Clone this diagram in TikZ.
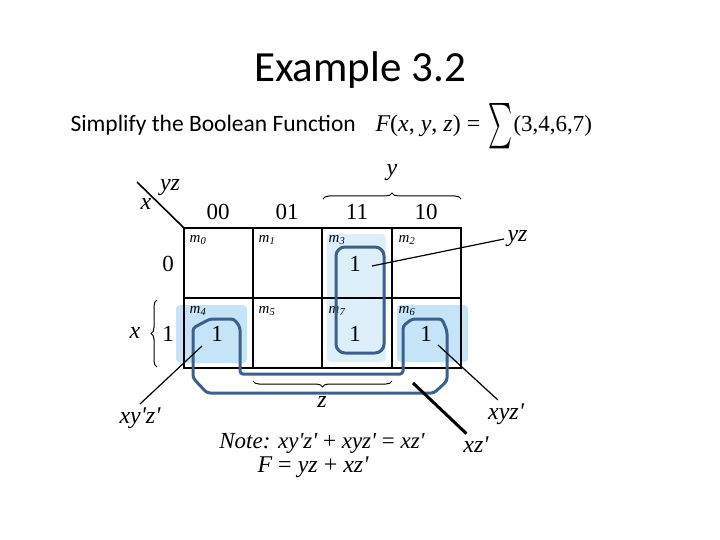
\documentclass[tikz,border=0pt]{standalone}
\usepackage{fontspec}
\setmainfont{Carlito}
\newfontfamily\tms{Liberation Serif}
\usetikzlibrary{decorations.pathreplacing}

\definecolor{loopblue}{HTML}{3D5F8A}
\definecolor{colshade}{HTML}{DDEFFB}
\definecolor{rowshade}{HTML}{C5E4F7}

\tikzset{
  kfont/.style={font=\tms\fontsize{23}{25}\selectfont},
  labfont/.style={font=\tms\itshape\fontsize{24}{26}\selectfont},
  mfont/.style={font=\tms\fontsize{15}{16}\selectfont},
  grouploop/.style={draw=loopblue, line width=3pt, rounded corners=3pt},
  leader/.style={line width=1.2pt},
  kbrace/.style={decorate, decoration={brace, amplitude=6pt}, line width=1pt},
}

\begin{document}
\begin{tikzpicture}[x=1pt, y=-1pt]
  \useasboundingbox (0,0) rectangle (720,540);

  % Title and task
  \node[font=\fontsize{43}{48}\selectfont, anchor=base] (title) at (360,82) {Example 3.2};
  \node[font=\fontsize{23.5}{26}\selectfont, anchor=base west] (task) at (67,132) {Simplify the Boolean Function};
  \node[font=\tms\fontsize{24}{26}\selectfont, anchor=base west] (fxyz) at (372,132) {\itshape F\upshape(\itshape x\upshape, \itshape y\upshape, \itshape z\upshape) =};
  \node[inner sep=0pt] (sigma) at (500,126) {\resizebox{24pt}{34pt}{$\sum$}};
  \node[font=\tms\fontsize{23}{25}\selectfont, anchor=base west] (terms) at (510,132) {(3,4,6,7)};

  % Shading of the groups
  \fill[colshade, rounded corners=4pt] (327,234) rectangle (386,362);
  \fill[rowshade, rounded corners=4pt] (176,305) rectangle (247,363);
  \fill[rowshade, rounded corners=4pt] (397,305) rectangle (468,362);

  % Map grid
  \draw[line width=1.3pt] (253,228) -- (253,368);
  \draw[line width=1.3pt] (392,228) -- (392,368);
  \draw[line width=2.2pt] (322,228) -- (322,368);
  \draw[line width=2.2pt] (184,298) -- (461,298);
  \draw[line width=2.6pt] (184,228) rectangle (461,368);
  \draw[line width=1.6pt] (137,182) -- (184,228);

  % Variables and headings
  \node[labfont] (cvar) at (170,188) {yz};
  \node[labfont] (rvar) at (146,204) {x};
  \node[kfont] (h00) at (218,212) {00};
  \node[kfont] (h01) at (287,212) {01};
  \node[kfont] (h11) at (357,212) {11};
  \node[kfont] (h10) at (426,212) {10};
  \node[kfont] (r0) at (168,264) {0};
  \node[kfont] (r1) at (168,334) {1};

  % Braces
  \draw[kbrace] (323,199) -- (461,199);
  \node[labfont] (ylab) at (392,173) {y};
  \draw[kbrace] (157,367) -- (157,300);
  \node[labfont] (xlab) at (135,333) {x};
  \draw[kbrace] (392,381) -- (253,381);
  \node[labfont] (zlab) at (322,402) {z};

  % Minterms
  \node[mfont] (m0) at (198,240) {\itshape m\textsubscript{0}};
  \node[mfont] (m1) at (267,240) {\itshape m\textsubscript{1}};
  \node[mfont] (m3) at (337,240) {\itshape m\textsubscript{3}};
  \node[mfont] (m2) at (407,240) {\itshape m\textsubscript{2}};
  \node[mfont] (m4) at (198,311) {\itshape m\textsubscript{4}};
  \node[mfont] (m5) at (267,311) {\itshape m\textsubscript{5}};
  \node[mfont] (m7) at (337,311) {\itshape m\textsubscript{7}};
  \node[mfont] (m6) at (407,311) {\itshape m\textsubscript{6}};

  % Ones
  \node[kfont] (one3) at (355,264) {1};
  \node[kfont] (one7) at (355,334) {1};
  \node[kfont] (one4) at (217,334) {1};
  \node[kfont] (one6) at (426,334) {1};

  % Groups
  \draw[grouploop, rounded corners=9pt] (336,247) rectangle (384,353);
  \draw[grouploop] (240,327) -- (240,374) -- (403,374) -- (403,326) -- (412,319)
    -- (442,319) -- (447,331) -- (447,381) -- (434,393) -- (207,393) -- (193,378)
    -- (193,328) -- (210,319) -- (234,319) -- cycle;

  % Leaders
  \coordinate (yzfoot) at (372,266);
  \node[labfont, anchor=west] (yzlab) at (504,239) {yz};
  \draw[leader] (yzfoot) -- (yzlab.west);
  \coordinate (xnfoot) at (202,346);
  \node[labfont] (xnlab) at (140,418) {xy'z'};
  \draw[leader] (xnfoot) -- (xnlab.north);
  \coordinate (xyfoot) at (438,345);
  \node[labfont] (xylab) at (506,414) {xyz'};
  \draw[leader] (xyfoot) -- (xylab.120);
  \coordinate (xzfoot) at (413,383);
  \node[labfont] (xzlab) at (476,445) {xz'};
  \draw[line width=3pt] (xzfoot) -- (xzlab.130);

  % Result
  \node[labfont, font=\tms\itshape\fontsize{23}{25}\selectfont] (note) at (322,443) {Note: xy'z' \upshape+ \itshape xyz' \upshape= \itshape xz'};
  \node[labfont] (result) at (313,467) {F \upshape= \itshape yz \upshape+ \itshape xz'};
\end{tikzpicture}
\end{document}
